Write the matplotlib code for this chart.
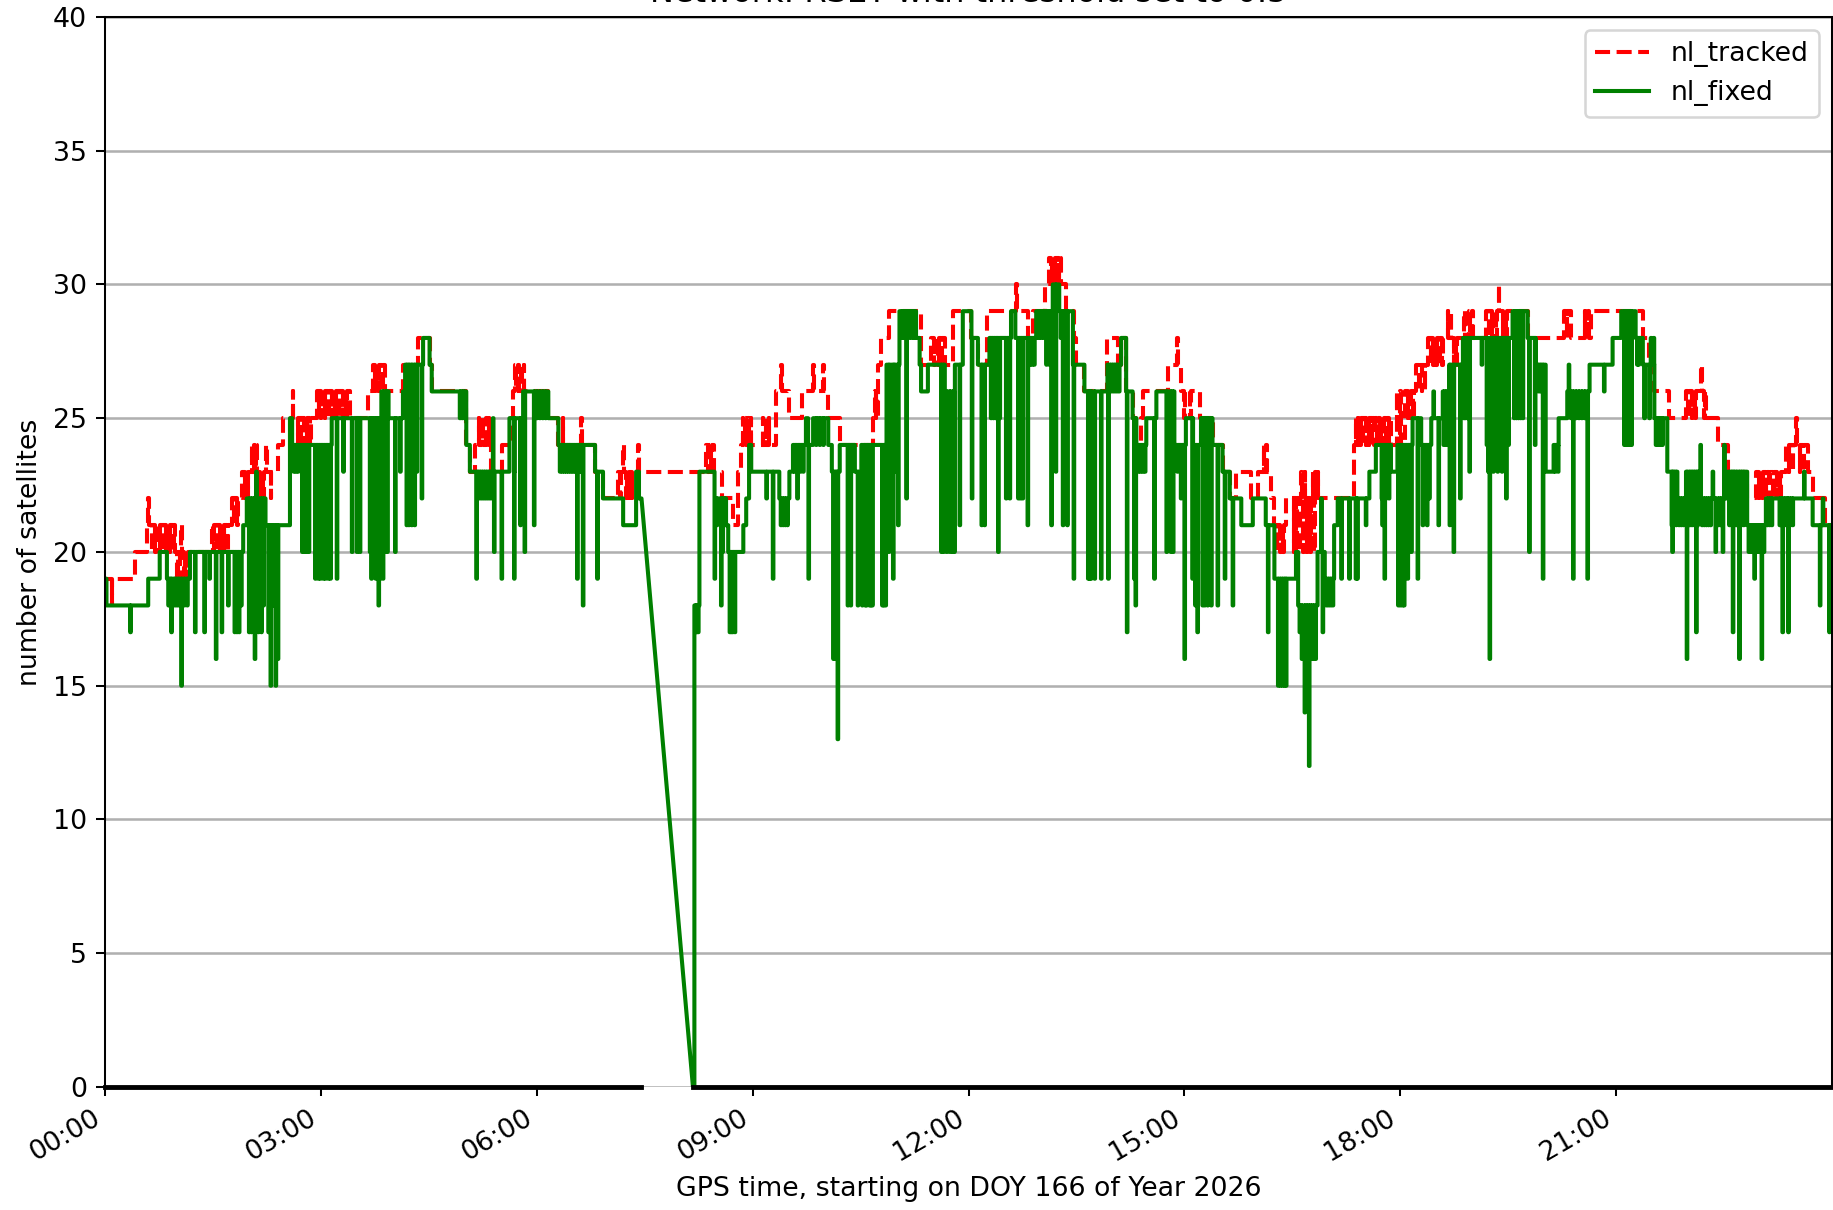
import numpy as np
import matplotlib
matplotlib.use('Agg')
import matplotlib.pyplot as plt
from matplotlib.ticker import FuncFormatter

# hours since 00:00 of DOY 166
# nl_fixed: level changes
fixed_t = [0.00, 0.02, 0.60, 0.76, 0.86, 1.18, 1.92, 1.97, 2.23, 2.57, 2.60, 3.15,
           3.84, 3.94, 4.14, 4.17, 4.42, 4.51, 4.54, 5.02, 5.07, 5.62, 5.69, 5.72,
           5.81, 6.16, 6.30, 6.81, 6.92, 7.20, 7.38, 7.42, 7.455, 8.17, 8.19, 8.26,
           8.47, 8.63, 8.66, 8.87, 8.91, 8.95, 8.98, 9.37, 9.51, 9.56, 9.74, 9.77,
           9.84, 10.05, 10.10, 10.21, 10.42, 10.51, 10.86, 11.04, 11.27, 11.32, 11.34,
           11.435, 11.67, 11.81, 11.92, 12.04, 12.13, 12.29, 12.59, 12.65, 12.94,
           13.17, 13.26, 13.45, 13.61, 13.93, 14.12, 14.19, 14.28, 14.33, 14.47,
           14.61, 14.86, 15.02, 15.12, 15.23, 15.39, 15.53, 15.63, 15.79, 15.95,
           16.13, 16.25, 16.55, 16.58, 16.85, 16.95, 17.08, 17.13, 17.57, 17.66,
           17.87, 17.96, 18.17, 18.29, 18.43, 18.59, 18.68, 18.87, 19.56, 19.77,
           19.88, 20.02, 20.13, 20.20, 20.32, 20.63, 20.95, 21.07, 21.27, 21.37,
           21.53, 21.71, 21.85, 21.97, 22.15, 22.55, 22.82, 23.08, 23.73]
fixed_v = [19, 18, 19, 20, 19, 20, 21, 22, 21, 25, 24, 25,
           26, 25, 26, 27, 28, 27, 26, 24, 23, 25, 23, 25,
           26, 25, 24, 23, 22, 21, 23, 22, 22, 0, 18, 23,
           22, 21, 20, 21, 22, 24, 23, 22, 23, 24, 25, 24,
           25, 24, 23, 24, 23, 24, 27, 29, 28, 27, 26,
           27, 26, 27, 29, 28, 27, 28, 29, 28, 29,
           30, 29, 27, 26, 27, 28, 26, 25, 24, 25,
           26, 24, 25, 24, 25, 24, 23, 22, 21, 22,
           21, 19, 20, 18, 20, 19, 21, 22, 23, 24,
           23, 24, 25, 24, 25, 26, 27, 28, 29, 28,
           27, 23, 24, 25, 26, 27, 28, 29, 28, 27,
           25, 23, 22, 23, 22, 23, 21, 22, 21]

# nl_fixed: single-epoch excursions away from the level
fixed_spike_t = [0.35, 0.88, 0.90, 0.92, 0.96, 0.99, 1.02, 1.06, 1.10, 1.14,
                 1.25, 1.38, 1.45, 1.54, 1.62, 1.71, 1.80, 1.83, 1.86, 1.89,
                 2.00, 2.03, 2.06, 2.08, 2.10, 2.13, 2.17, 2.20,
                 2.27, 2.30, 2.33, 2.37, 2.40,
                 2.62, 2.65, 2.68, 2.74, 2.77, 2.80, 2.83,
                 2.92, 2.96, 2.99, 3.03, 3.06, 3.10, 3.13, 3.22,
                 3.31, 3.43, 3.50, 3.54,
                 3.68, 3.70, 3.72, 3.76, 3.80, 3.82, 3.86, 3.90, 3.92,
                 4.03, 4.10, 4.19, 4.22, 4.26, 4.30, 4.33, 4.40,
                 4.93, 4.96, 4.99,
                 5.16, 5.18, 5.21, 5.24, 5.27, 5.30, 5.33, 5.36, 5.39, 5.405,
                 5.51, 5.685, 5.77, 5.83, 5.96, 6.00, 6.04, 6.08, 6.12,
                 6.32, 6.35, 6.38, 6.41, 6.44, 6.47, 6.50, 6.53, 6.56, 6.59, 6.62, 6.64,
                 6.84, 8.20, 8.22, 8.24,
                 8.47, 8.50, 8.56, 8.58, 8.61, 8.68, 8.70, 8.72, 8.75,
                 9.19, 9.28, 9.39, 9.42, 9.45, 9.48,
                 9.58, 9.62, 9.66, 9.70, 9.775, 9.88, 9.93, 9.98,
                 10.12, 10.14, 10.16, 10.18, 10.32, 10.36, 10.46,
                 10.52, 10.54, 10.56, 10.58, 10.60, 10.62, 10.64, 10.66,
                 10.80, 10.82, 10.845,
                 10.89, 10.95, 10.97, 11.02,
                 11.07, 11.10, 11.135, 11.17, 11.21, 11.24,
                 11.62, 11.65, 11.695, 11.74, 11.78, 11.80, 11.875, 12.045,
                 12.18, 12.22, 12.31, 12.34, 12.37, 12.41, 12.43,
                 12.52, 12.57, 12.69, 12.72, 12.75, 12.82, 12.85, 12.88, 12.91,
                 12.97, 13.00, 13.04, 13.08, 13.12, 13.15, 13.21,
                 13.28, 13.31, 13.34, 13.37, 13.46,
                 13.66, 13.68, 13.70, 13.75, 13.84,
                 13.94, 13.97, 14.00, 14.03, 14.06, 14.09, 14.20, 14.30, 14.32,
                 14.36, 14.39, 14.42, 14.45, 14.58, 14.75, 14.81, 14.84,
                 14.90, 14.95, 15.00, 15.11, 15.15, 15.18,
                 15.25, 15.28, 15.32, 15.37, 15.46, 15.56, 15.67, 16.16,
                 16.30, 16.33, 16.36, 16.39, 16.41,
                 16.60, 16.63, 16.67, 16.70, 16.73, 16.76, 16.79, 16.82,
                 16.90, 16.92, 16.97, 17.00, 17.03, 17.06,
                 17.18, 17.29, 17.38, 17.40, 17.52,
                 17.74, 17.75, 17.78, 17.80, 17.84,
                 17.97, 18.00, 18.03, 18.05, 18.10, 18.15, 18.24,
                 18.31, 18.34, 18.37, 18.40, 18.46, 18.53,
                 18.60, 18.63, 18.66, 18.685, 18.74, 18.83,
                 18.88, 18.90, 18.93, 18.96, 19.13,
                 19.20, 19.22, 19.24, 19.26, 19.29, 19.32, 19.35, 19.38, 19.41, 19.44, 19.47, 19.50,
                 19.58, 19.61, 19.64, 19.67, 19.70, 19.79, 19.87,
                 19.92, 19.95, 19.98, 20.15, 20.19,
                 20.34, 20.37, 20.40, 20.44, 20.48, 20.52, 20.56, 20.60, 20.83,
                 21.11, 21.13, 21.16, 21.19, 21.21, 21.29, 21.31,
                 21.39, 21.46, 21.48, 21.52, 21.55, 21.58, 21.61, 21.64,
                 21.77, 21.78, 21.80, 21.83, 21.87, 21.90, 21.93, 21.98,
                 22.02, 22.05, 22.08, 22.11, 22.13,
                 22.17, 22.19, 22.22, 22.25, 22.28, 22.31,
                 22.34, 22.38, 22.42, 22.45, 22.48, 22.50,
                 22.57, 22.60, 22.62, 22.64, 22.67, 22.71, 22.74, 22.77,
                 22.84, 22.87, 22.90, 22.92, 22.95, 22.98, 23.02, 23.05,
                 23.10, 23.13, 23.16,
                 23.27, 23.30, 23.31, 23.34, 23.37, 23.39, 23.42, 23.45,
                 23.61, 23.83, 23.87, 23.96]
fixed_spike_v = [17, 18, 18, 17, 18, 18, 18, 15, 18, 18,
                 17, 17, 19, 16, 17, 18, 17, 17, 17, 18,
                 17, 17, 20, 16, 23, 17, 17, 18,
                 17, 15, 18, 15, 16,
                 23, 23, 23, 20, 20, 20, 20,
                 19, 19, 19, 19, 19, 19, 19, 19,
                 23, 20, 20, 20,
                 20, 19, 20, 19, 18, 19, 19, 20, 20,
                 20, 23, 21, 21, 21, 21, 23, 22,
                 25, 25, 25,
                 19, 22, 22, 22, 22, 22, 22, 22, 25, 20,
                 19, 19, 21, 20, 21, 25, 25, 25, 25,
                 23, 23, 23, 23, 23, 23, 23, 23, 19, 23, 23, 18,
                 19, 17, 17, 17,
                 19, 21, 18, 20, 21, 17, 17, 17, 17,
                 22, 19, 21, 21, 21, 21,
                 23, 22, 23, 23, 19, 24, 24, 24,
                 16, 16, 16, 13, 18, 18, 18,
                 18, 19, 18, 18, 19, 18, 18, 18,
                 18, 18, 18,
                 20, 19, 23, 21,
                 28, 28, 22, 28, 28, 28,
                 20, 20, 20, 20, 20, 20, 21, 22,
                 21, 21, 25, 25, 25, 20, 25,
                 22, 22, 22, 22, 22, 21, 27, 27, 27,
                 28, 28, 28, 27, 27, 21, 23,
                 28, 21, 28, 21, 19,
                 19, 19, 19, 19, 19,
                 19, 26, 26, 26, 26, 26, 17, 19, 18,
                 23, 23, 23, 23, 19, 20, 20, 20,
                 23, 22, 16, 19, 18, 17,
                 18, 18, 18, 18, 18, 19, 18, 17,
                 15, 15, 15, 15, 15,
                 17, 16, 14, 16, 12, 16, 16, 16,
                 22, 17, 18, 18, 18, 18,
                 19, 19, 19, 19, 21,
                 22, 21, 19, 22, 22,
                 18, 18, 18, 18, 19, 20, 19,
                 21, 22, 21, 22, 26, 21,
                 24, 24, 24, 21, 20, 22,
                 25, 25, 25, 23, 27,
                 24, 23, 16, 24, 23, 24, 23, 24, 23, 24, 22, 24,
                 25, 25, 25, 25, 25, 20, 24,
                 26, 26, 19, 23, 23,
                 27, 25, 19, 25, 25, 25, 25, 19, 26,
                 24, 24, 24, 24, 24, 27, 27,
                 25, 25, 28, 28, 24, 24, 24, 24,
                 21, 20, 21, 21, 21, 21, 21, 16,
                 21, 21, 21, 17, 21,
                 24, 21, 21, 21, 21, 21,
                 23, 20, 21, 21, 20, 24,
                 21, 21, 17, 21, 21, 16, 21, 21,
                 20, 20, 20, 19, 20, 20, 16, 20,
                 21, 21, 21,
                 21, 21, 17, 21, 21, 17, 21, 21,
                 23, 18, 22, 17]

# nl_tracked: level changes
tracked_t = [0.00, 0.42, 0.58, 0.97, 1.48, 1.76, 1.90, 2.40, 2.47, 2.94, 3.40,
             3.66, 3.72, 3.89, 4.14, 4.35, 4.51, 4.54, 5.02, 5.07, 5.14, 5.37,
             5.51, 5.64, 5.67, 6.16, 6.30, 6.81, 6.92, 7.13, 7.455, 8.17, 8.35,
             8.46, 8.58, 8.73, 8.80, 8.84, 9.33, 9.51, 9.68, 10.05, 10.21, 10.67,
             10.74, 10.79, 10.90, 11.34, 11.48, 11.67, 11.78, 12.04, 12.13, 12.25,
             12.82, 12.89, 13.06, 13.12, 13.29, 13.36, 13.47, 13.50, 13.61, 13.93,
             14.07, 14.12, 14.19, 14.28, 14.33, 14.40, 14.42, 14.77, 14.95, 15.21,
             15.39, 15.53, 15.63, 15.72, 15.93, 16.02, 16.20, 16.25, 16.41, 17.36,
             17.45, 17.87, 18.06, 18.22, 18.38, 19.19, 19.77, 20.28, 20.37, 20.65,
             21.37, 21.46, 21.53, 21.74, 21.97, 22.25, 22.41, 22.55, 22.82, 22.94,
             23.36, 23.66, 23.73, 23.90]
tracked_v = [19, 20, 21, 20, 21, 22, 23, 24, 25, 26, 25,
             26, 27, 26, 27, 28, 27, 26, 24, 23, 24, 23,
             24, 25, 26, 25, 24, 23, 22, 23, 23, 23, 24,
             23, 22, 21, 23, 24, 26, 25, 26, 25, 24, 25,
             27, 28, 29, 27, 28, 27, 29, 28, 27, 29,
             28, 29, 30, 31, 30, 29, 28, 27, 26, 28,
             27, 28, 26, 25, 24, 25, 26, 27, 26, 25,
             24, 23, 22, 23, 22, 23, 22, 21, 22, 24,
             25, 24, 26, 27, 28, 29, 28, 29, 28, 29,
             28, 27, 26, 25, 26, 25, 24, 23, 22, 23,
             24, 23, 22, 21]

# nl_tracked: single-epoch excursions
tracked_spike_t = [0.09, 0.60, 0.65, 0.70, 0.75, 0.80, 0.85, 0.90, 0.95,
                   1.00, 1.04, 1.06, 1.10, 1.14,
                   1.50, 1.55, 1.60, 1.65, 1.70, 1.79, 1.84,
                   1.94, 1.98, 2.04, 2.07, 2.10, 2.15, 2.20, 2.24, 2.30,
                   2.61, 2.68, 2.72, 2.76, 2.80, 2.85,
                   2.97, 3.00, 3.05, 3.10, 3.15, 3.20, 3.25, 3.30, 3.35,
                   3.75, 3.80, 3.85, 4.20, 4.25, 4.30,
                   5.19, 5.24, 5.30, 5.33, 5.70, 5.74, 5.78, 5.82,
                   6.36, 6.62, 7.16, 7.20, 7.24, 7.28, 7.32, 7.41,
                   8.38, 8.42, 8.86, 8.90, 8.94, 8.97, 9.14, 9.18, 9.22,
                   9.40, 9.84, 9.98, 10.70, 10.72,
                   11.52, 11.58, 11.62, 12.66,
                   13.15, 13.20, 13.25, 14.90, 15.00, 15.08,
                   16.10, 16.14, 16.28, 16.33, 16.37,
                   16.52, 16.55, 16.60, 16.62, 16.65, 16.67, 16.70, 16.75,
                   16.78, 16.80, 16.82, 16.85,
                   17.38, 17.41, 17.43,
                   17.48, 17.52, 17.56, 17.60, 17.64, 17.68, 17.72, 17.76, 17.80, 17.84,
                   17.95, 18.00, 18.10, 18.14, 18.18, 18.26, 18.30, 18.34,
                   18.42, 18.46, 18.50, 18.54, 18.58, 18.66, 18.70, 18.74, 18.78,
                   18.89, 18.96, 19.00,
                   19.23, 19.28, 19.33, 19.37, 19.42, 19.47,
                   20.31, 20.56, 20.61, 21.33,
                   22.00, 22.05, 22.10, 22.18, 22.22,
                   22.98, 23.03, 23.08, 23.13, 23.18, 23.23, 23.28,
                   23.40, 23.45, 23.50, 23.55, 23.60]
tracked_spike_v = [18, 22, 20, 20, 20, 20, 20, 20, 20,
                   19, 19, 21, 19, 19,
                   20, 20, 20, 20, 20, 21, 21,
                   22, 22, 24, 24, 24, 22, 22, 24, 22,
                   26, 24, 24, 24, 24, 24,
                   25, 25, 25, 25, 25, 25, 25, 25, 25,
                   26, 26, 26, 26, 26, 26,
                   25, 25, 25, 25, 27, 27, 27, 27,
                   25, 25, 22, 24, 22, 22, 22, 24,
                   23, 23, 25, 25, 25, 25, 25, 25, 25,
                   27, 27, 27, 26, 26,
                   27, 27, 27, 30,
                   30, 30, 30, 28, 25, 25,
                   24, 24, 20, 20, 20,
                   20, 20, 20, 23, 20, 23, 20, 20,
                   23, 20, 23, 23,
                   25, 25, 25,
                   24, 24, 24, 24, 24, 24, 24, 24, 24, 24,
                   26, 26, 25, 25, 25, 26, 26, 26,
                   27, 27, 27, 27, 27, 29, 29, 27, 27,
                   29, 29, 29,
                   28, 28, 28, 30, 28, 28,
                   28, 29, 29, 29,
                   25, 25, 25, 27, 25,
                   22, 22, 22, 22, 22, 22, 22,
                   23, 23, 25, 23, 23]

# third series, flat at zero, missing during the data gap
zero_t = [0.0, 7.455, 7.46, 8.17, 24.0]
zero_v = [0, 0, np.nan, 0, 0]

gap_start, gap_end = 7.455, 8.17
day_end = 24.0


def build_line(t, v, spike_t, spike_v, width=0.008):
    t = np.asarray(t, dtype=float)
    v = np.asarray(v, dtype=float)
    pts = list(zip(t, v))
    for st, sv in zip(spike_t, spike_v):
        base = v[np.searchsorted(t, st, side='right') - 1]
        pts += [(st, sv), (st + width, base)]
    pts.sort(key=lambda p: p[0])
    xs, ys = [], []
    for i, (x, y) in enumerate(pts):
        xs.append(x)
        ys.append(y)
        nx = pts[i + 1][0] if i + 1 < len(pts) else day_end
        # across the data gap matplotlib just joins the two samples
        if not (x <= gap_start and nx >= gap_end):
            xs.append(nx)
            ys.append(y)
    return xs, ys


plt.rcParams['font.family'] = 'DejaVu Sans'
plt.rcParams['font.size'] = 10.5
fig = plt.figure(figsize=(10, 1210 / 183.3), dpi=183.3)
ax = fig.add_axes([0.0573, 0.1017, 0.9422, 0.8843])

tx, ty = build_line(tracked_t, tracked_v, tracked_spike_t, tracked_spike_v)
fx, fy = build_line(fixed_t, fixed_v, fixed_spike_t, fixed_spike_v)
ax.plot(tx, ty, 'r--', lw=1.6, label='nl_tracked')
ax.plot(fx, fy, color='green', lw=1.6, label='nl_fixed')
ax.plot(zero_t, zero_v, color='black', lw=1.9, clip_on=False)

ax.set_xlim(0, day_end)
ax.set_ylim(0, 40)
ax.set_yticks(np.arange(0, 41, 5))
ax.set_xticks(np.arange(0, 24, 3))
ax.xaxis.set_major_formatter(FuncFormatter(lambda h, pos: '%02d:00' % int(round(h))))
plt.setp(ax.get_xticklabels(), rotation=30, ha='right')
ax.grid(axis='y', color='#b0b0b0', lw=1.0)
ax.spines['bottom'].set_visible(False)

ax.set_xlabel('GPS time, starting on DOY 166 of Year 2026')
ax.set_ylabel('number of satellites')
ax.set_title('Network: RSEY with threshold set to 0.5')
ax.legend(loc='upper right')

fig.savefig('out.png', dpi=183.3)
